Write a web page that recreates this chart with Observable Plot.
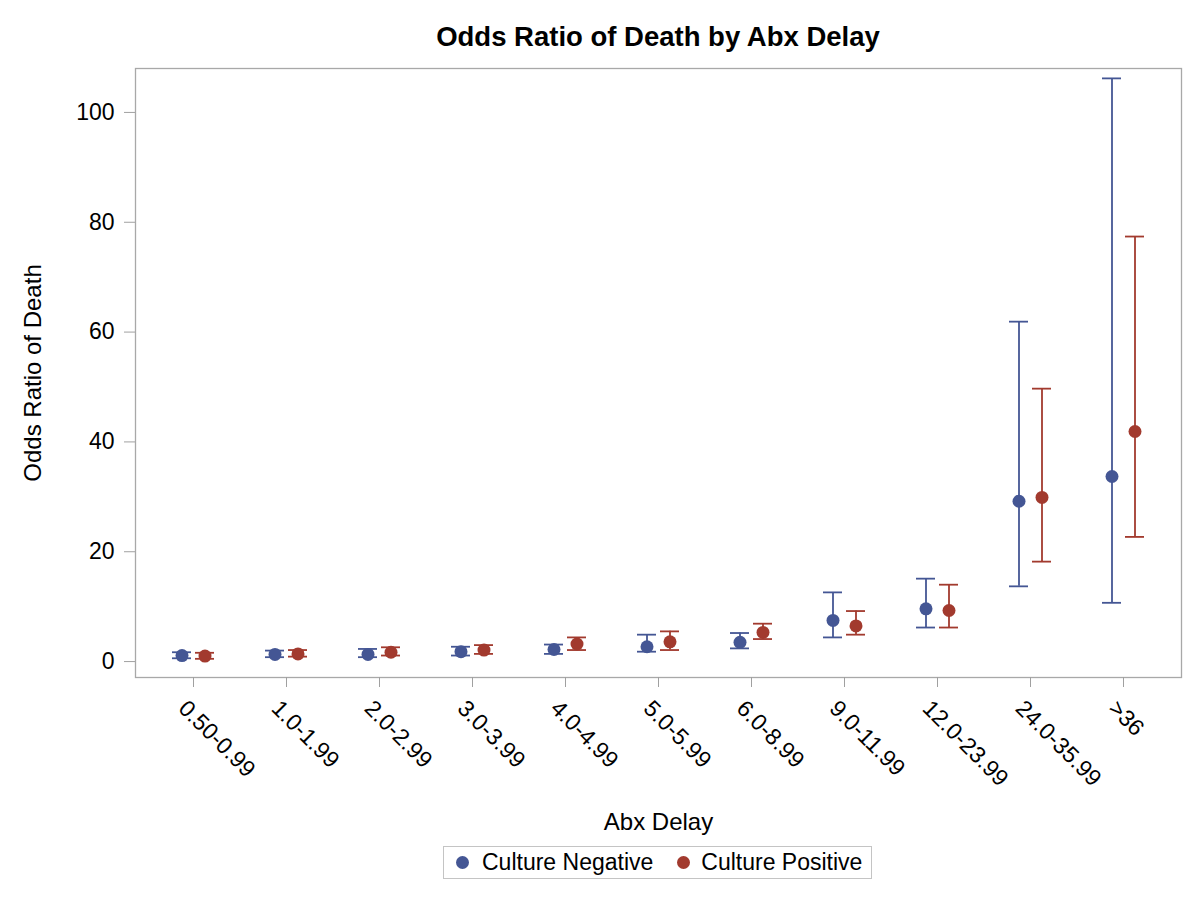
<!DOCTYPE html>
<html>
<head>
<meta charset="utf-8">
<script src="https://cdn.jsdelivr.net/npm/d3@7"></script>
<script src="https://cdn.jsdelivr.net/npm/@observablehq/plot@0.6"></script>
<style>
  html, body { margin: 0; padding: 0; background: #fff; }
  body { position: relative; width: 1200px; height: 899px; font-family: "Liberation Sans", Arial, sans-serif; overflow: hidden; }
  #title { position: absolute; left: 135px; top: 20px; width: 1046px; text-align: center; font-weight: bold; font-size: 27.5px; line-height: 34px; color: #000; }
  #chart { position: absolute; left: 0; top: 52px; }
  #legend { position: absolute; left: 443px; top: 846px; width: 429px; height: 33px; border: 1px solid #c4c4c4; box-sizing: border-box; display: flex; align-items: center; font-size: 23px; color: #000; }
  .sw { display: inline-block; width: 13px; height: 13px; border-radius: 50%; margin-left: 12px; margin-right: 13px; }
</style>
</head>
<body>
<div id="title">Odds Ratio of Death by Abx Delay</div>
<div id="chart"></div>
<div id="legend"></div>
<script>
const categories = ["0.50-0.99","1.0-1.99","2.0-2.99","3.0-3.99","4.0-4.99","5.0-5.99","6.0-8.99","9.0-11.99","12.0-23.99","24.0-35.99",">36"];
const seriesNames = ["Culture Negative", "Culture Positive"];
const seriesColors = ["#445694", "#A23A2E"];
const negOR = [1.1, 1.3, 1.3, 1.8, 2.2, 2.7, 3.5, 7.5, 9.6, 29.2, 33.7];
const negLo = [0.6, 0.8, 0.8, 1.1, 1.4, 1.8, 2.4, 4.4, 6.2, 13.7, 10.7];
const negHi = [1.7, 2.0, 2.3, 2.7, 3.1, 4.9, 5.2, 12.6, 15.1, 61.9, 106.2];
const posOR = [1.0, 1.4, 1.7, 2.1, 3.2, 3.6, 5.3, 6.5, 9.3, 29.9, 41.9];
const posLo = [0.5, 0.9, 1.1, 1.4, 2.1, 2.1, 4.1, 4.9, 6.2, 18.2, 22.7];
const posHi = [1.6, 2.1, 2.6, 3.0, 4.4, 5.5, 6.9, 9.2, 14.0, 49.7, 77.4];
const yTicks = [0, 20, 40, 60, 80, 100];

const rows = [];
categories.forEach((c, i) => {
  rows.push({cat: c, series: seriesNames[0], or: negOR[i], lo: negLo[i], hi: negHi[i]});
  rows.push({cat: c, series: seriesNames[1], or: posOR[i], lo: posLo[i], hi: posHi[i]});
});

const offsets = [-11.5, 11.5];
const capHalf = 9.5;
const marks = [];
seriesNames.forEach((s, k) => {
  const d = rows.filter(r => r.series === s);
  const col = seriesColors[k];
  marks.push(Plot.ruleX(d, {x: "cat", y1: "lo", y2: "hi", stroke: col, strokeWidth: 1.8, dx: offsets[k]}));
  marks.push(Plot.ruleY(d, {y: "hi", x1: "cat", x2: "cat", insetLeft: -capHalf, insetRight: -capHalf, stroke: col, strokeWidth: 1.8, dx: offsets[k]}));
  marks.push(Plot.ruleY(d, {y: "lo", x1: "cat", x2: "cat", insetLeft: -capHalf, insetRight: -capHalf, stroke: col, strokeWidth: 1.8, dx: offsets[k]}));
  marks.push(Plot.dot(d, {x: "cat", y: "or", r: 6.5, fill: col, stroke: "none", dx: offsets[k]}));
});

const chart = Plot.plot({
  width: 1200,
  height: 786,
  marginTop: 16,
  marginLeft: 135,
  marginRight: 19,
  marginBottom: 161,
  style: {fontFamily: "'Liberation Sans', Arial, sans-serif", fontSize: "23px", color: "#000", background: "#fff"},
  x: {type: "point", domain: categories, padding: 0.61},
  y: {domain: [-2.9, 108]},
  marks: [
    Plot.frame({stroke: "#a8a8a8", strokeWidth: 1.3}),
    Plot.axisY({ticks: yTicks, tickSize: 11, tickPadding: 10, stroke: "#a0a0a0", label: null, fontSize: 23}),
    Plot.axisX({tickSize: 10, tickFormat: () => "", stroke: "#a0a0a0", label: null}),
    Plot.text(categories, {x: d => d, frameAnchor: "bottom", rotate: 45, textAnchor: "start", lineAnchor: "middle", dx: -11, dy: 27, fontSize: 23}),
    Plot.text(["Odds Ratio of Death"], {frameAnchor: "left", textAnchor: "middle", rotate: -90, dx: -102, fontSize: 24}),
    Plot.text(["Abx Delay"], {frameAnchor: "bottom", dy: 152, fontSize: 24}),
    ...marks
  ]
});
document.getElementById("chart").appendChild(chart);

const legend = document.getElementById("legend");
seriesNames.forEach((s, k) => {
  const sw = document.createElement("span");
  sw.className = "sw";
  sw.style.background = seriesColors[k];
  if (k === 1) sw.style.marginLeft = "24px";
  if (k === 1) sw.style.marginRight = "11px";
  legend.appendChild(sw);
  const t = document.createElement("span");
  t.textContent = s;
  legend.appendChild(t);
});
</script>
</body>
</html>
